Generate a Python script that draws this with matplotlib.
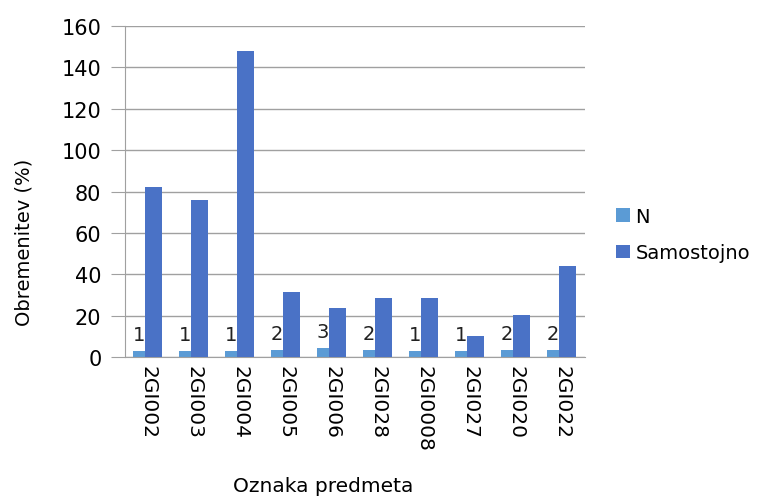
import numpy as np
import matplotlib.pyplot as plt

predmeti = ["2GI002", "2GI003", "2GI004", "2GI005", "2GI006",
            "2GI028", "2GI0008", "2GI027", "2GI020", "2GI022"]
n_vrednosti = [2.7, 2.7, 2.7, 3.5, 4.3, 3.5, 2.7, 2.7, 3.5, 3.5]
n_oznake = ["1", "1", "1", "2", "3", "2", "1", "1", "2", "2"]
samostojno = [82, 76, 148, 31.5, 23.7, 28.5, 28.5, 10, 20.3, 44]

fig = plt.figure(figsize=(7.6, 5.02), dpi=100)
ax = fig.add_axes([0.1645, 0.287, 0.605, 0.659])

x = np.arange(len(predmeti))
w = 0.38
ax.bar(x - 0.13, n_vrednosti, w, color="#5b9bd5", label="N", zorder=2)
ax.bar(x + 0.12, samostojno, w, color="#4a72c6", label="Samostojno", zorder=3)

# oznake nad N stolpci
for xi, v, t in zip(x, n_vrednosti, n_oznake):
    ax.annotate(t, (xi - 0.2, v), xytext=(0, 5), textcoords="offset points",
                ha="center", va="bottom", fontsize=14, color="#222222", zorder=4)

ax.set_xlim(-0.5, len(predmeti) - 0.5)
ax.set_ylim(0, 160)
ax.set_yticks(range(0, 161, 20))
ax.set_xticks(x)
ax.set_xticklabels(predmeti, rotation=-90, fontsize=14.5)
ax.tick_params(axis="y", labelsize=15, length=10, color="#a0a0a0", pad=7)
ax.tick_params(axis="x", length=0, pad=6)
ax.yaxis.grid(True, color="#a0a0a0", linewidth=1, zorder=0)
ax.set_axisbelow(True)

for s in ["top", "right"]:
    ax.spines[s].set_visible(False)
ax.spines["left"].set_color("#a0a0a0")
ax.spines["bottom"].set_color("#a0a0a0")

ax.set_ylabel("Obremenitev (%)", fontsize=14)
ax.yaxis.set_label_coords(-0.198, 0.35)
ax.set_xlabel("Oznaka predmeta", fontsize=14.5)
ax.xaxis.set_label_coords(0.43, -0.36)

ax.legend(loc="center left", bbox_to_anchor=(1.03, 0.37), frameon=False,
          fontsize=14, handlelength=0.7, handleheight=0.7, handletextpad=0.3,
          labelspacing=0.9)

plt.savefig("out.png", dpi=100)
